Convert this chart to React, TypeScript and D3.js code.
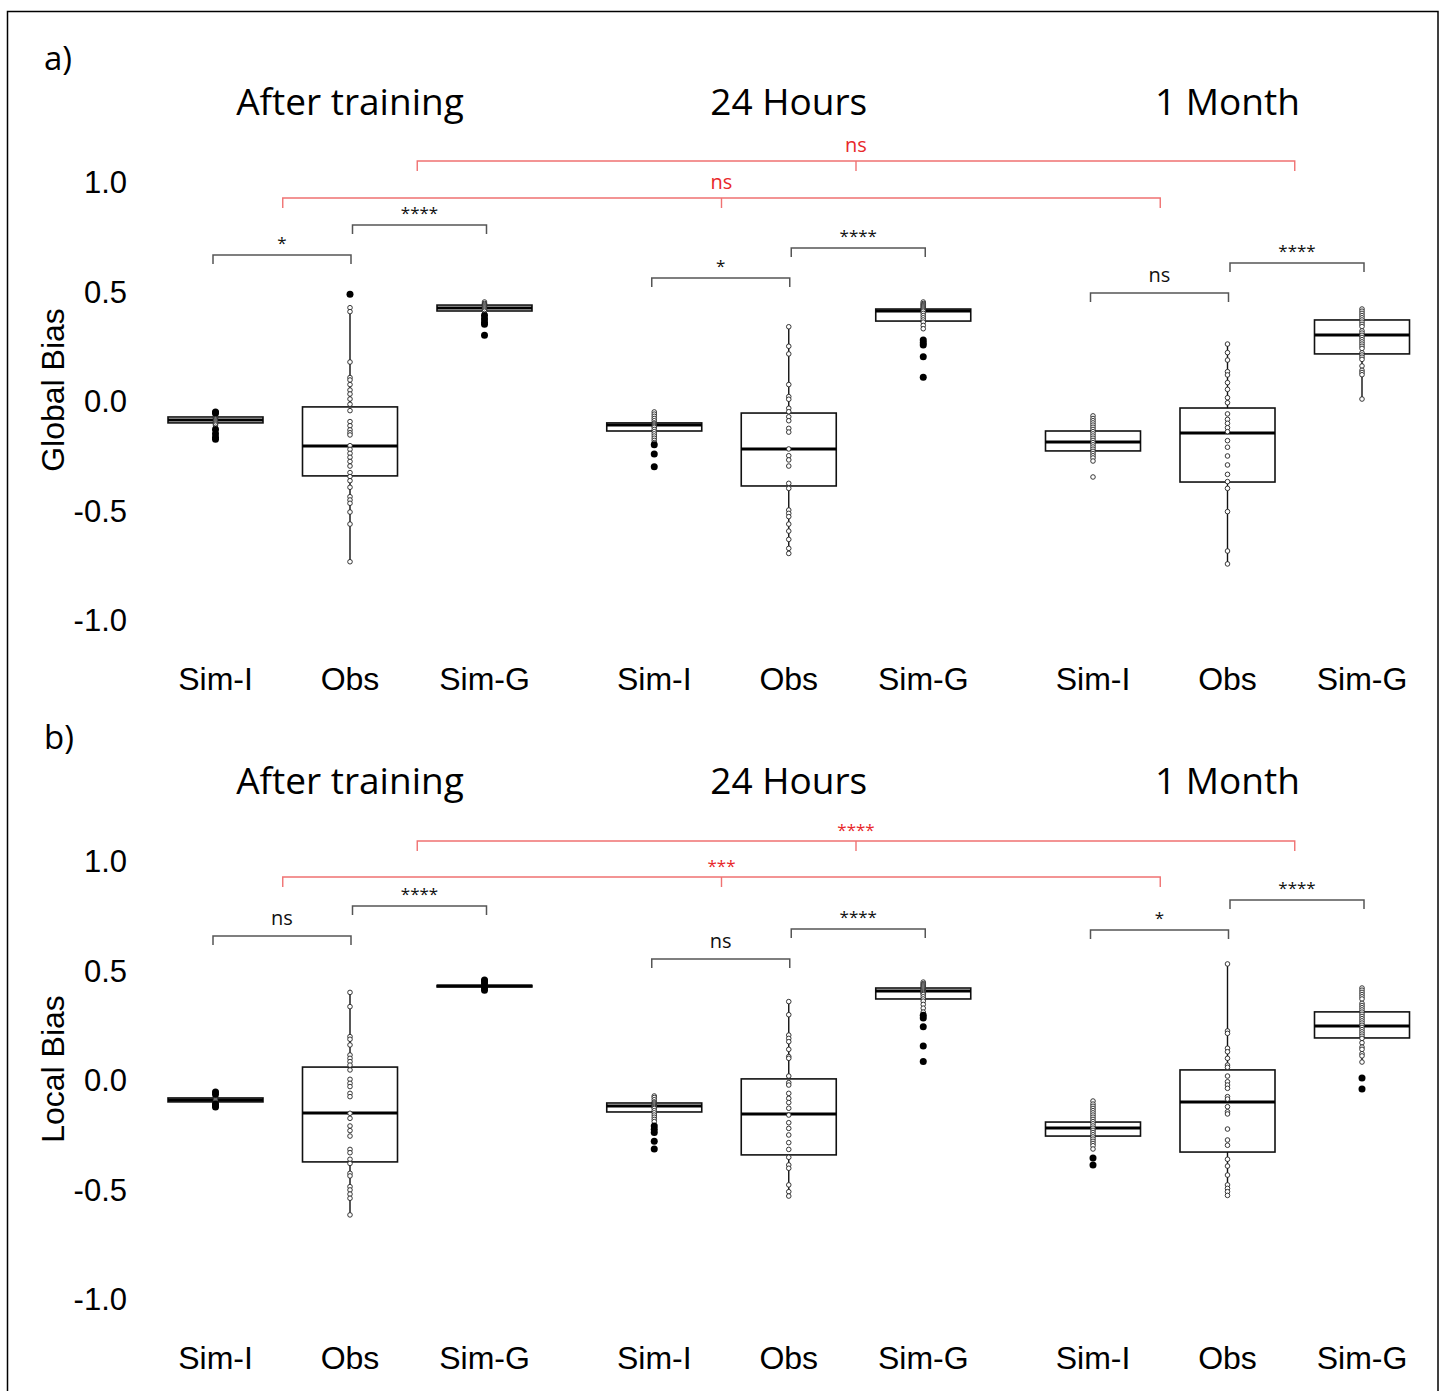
import React from "react";
import * as d3 from "d3";

const groups = ["After training", "24 Hours", "1 Month"];
const conditions = ["Sim-I", "Obs", "Sim-G"];
const yTicks = [-1.0, -0.5, 0.0, 0.5, 1.0];

// ---- Panel a: Global Bias (order: AT Sim-I, AT Obs, AT Sim-G, 24H Sim-I, 24H Obs, 24H Sim-G, 1M Sim-I, 1M Obs, 1M Sim-G)
const globalQ1 = [-0.100, -0.342, 0.411, -0.137, -0.388, 0.365, -0.228, -0.370, 0.215];
const globalMedian = [-0.087, -0.205, 0.425, -0.110, -0.219, 0.411, -0.187, -0.146, 0.301];
const globalQ3 = [-0.073, -0.027, 0.438, -0.100, -0.055, 0.420, -0.137, -0.032, 0.370];
const globalLow = [-0.120, -0.735, 0.398, -0.190, -0.694, 0.320, -0.274, -0.744, 0.009];
const globalHigh = [-0.060, 0.415, 0.452, -0.050, 0.338, 0.452, -0.068, 0.260, 0.420];
const globalPoints = [
  [-0.06, -0.065, -0.07, -0.075, -0.08, -0.085, -0.09, -0.095, -0.10, -0.105, -0.11, -0.12],
  [0.426, 0.408, 0.178, 0.107, 0.096, 0.075, 0.050, 0.032, 0.009, -0.015, -0.044, -0.094, -0.113, -0.132, -0.145, -0.155, -0.204, -0.221, -0.239, -0.257, -0.276, -0.297, -0.327, -0.345, -0.364, -0.394, -0.437, -0.452, -0.467, -0.507, -0.562, -0.734],
  [0.452, 0.445, 0.44, 0.435, 0.43, 0.425, 0.42, 0.415, 0.41, 0.40],
  [-0.05, -0.06, -0.07, -0.08, -0.09, -0.10, -0.105, -0.11, -0.115, -0.12, -0.13, -0.14, -0.15, -0.16, -0.17, -0.18, -0.19],
  [0.339, 0.250, 0.215, 0.075, 0.020, 0.008, -0.033, -0.049, -0.072, -0.090, -0.125, -0.142, -0.219, -0.250, -0.269, -0.297, -0.376, -0.399, -0.498, -0.513, -0.528, -0.562, -0.594, -0.632, -0.673, -0.696],
  [0.452, 0.445, 0.44, 0.435, 0.43, 0.425, 0.42, 0.415, 0.41, 0.40, 0.39, 0.38, 0.37, 0.36, 0.345, 0.33],
  [-0.068, -0.08, -0.09, -0.10, -0.11, -0.12, -0.13, -0.14, -0.15, -0.16, -0.17, -0.18, -0.19, -0.20, -0.21, -0.22, -0.23, -0.24, -0.25, -0.26, -0.274, -0.347],
  [0.260, 0.221, 0.187, 0.134, 0.119, 0.084, 0.053, 0.015, -0.008, -0.059, -0.084, -0.102, -0.122, -0.140, -0.181, -0.211, -0.251, -0.292, -0.335, -0.368, -0.399, -0.505, -0.685, -0.744],
  [0.42, 0.41, 0.40, 0.39, 0.38, 0.37, 0.36, 0.35, 0.34, 0.32, 0.31, 0.30, 0.29, 0.28, 0.27, 0.26, 0.25, 0.24, 0.22, 0.21, 0.20, 0.19, 0.16, 0.14, 0.13, 0.12, 0.009],
];
const globalOutliers = [
  [-0.05, -0.055, -0.13, -0.15, -0.165, -0.175],
  [0.487],
  [0.39, 0.375, 0.36, 0.35, 0.30],
  [-0.20, -0.242, -0.30],
  [],
  [0.279, 0.266, 0.256, 0.202, 0.108],
  [],
  [],
  [],
];

// ---- Panel b: Local Bias
const localQ1 = [-0.100, -0.374, 0.425, -0.146, -0.342, 0.370, -0.256, -0.329, 0.192];
const localMedian = [-0.091, -0.151, 0.429, -0.119, -0.155, 0.406, -0.219, -0.100, 0.247];
const localQ3 = [-0.082, 0.059, 0.432, -0.105, 0.005, 0.420, -0.192, 0.046, 0.311];
const localLow = [-0.105, -0.616, 0.425, -0.190, -0.530, 0.310, -0.315, -0.527, 0.082];
const localHigh = [-0.075, 0.400, 0.435, -0.073, 0.358, 0.447, -0.096, 0.530, 0.420];
const localPoints = [
  [-0.075, -0.08, -0.085, -0.09, -0.095, -0.10, -0.105],
  [0.400, 0.335, 0.198, 0.186, 0.160, 0.114, 0.099, 0.084, 0.068, 0.046, 0.003, -0.015, -0.030, -0.061, -0.076, -0.152, -0.175, -0.210, -0.231, -0.256, -0.317, -0.332, -0.362, -0.381, -0.426, -0.438, -0.487, -0.502, -0.521, -0.540, -0.616],
  [0.435, 0.43, 0.429, 0.428, 0.425],
  [-0.073, -0.08, -0.09, -0.10, -0.105, -0.11, -0.115, -0.12, -0.125, -0.13, -0.14, -0.15, -0.16, -0.17, -0.18, -0.19],
  [0.358, 0.298, 0.205, 0.190, 0.175, 0.140, 0.107, 0.099, 0.018, -0.012, -0.023, -0.061, -0.084, -0.103, -0.129, -0.160, -0.195, -0.221, -0.251, -0.286, -0.317, -0.353, -0.388, -0.403, -0.479, -0.510, -0.530],
  [0.447, 0.44, 0.435, 0.43, 0.425, 0.42, 0.415, 0.41, 0.405, 0.40, 0.395, 0.39, 0.38, 0.37, 0.36, 0.345, 0.328, 0.31],
  [-0.096, -0.11, -0.12, -0.13, -0.14, -0.15, -0.16, -0.17, -0.18, -0.19, -0.20, -0.21, -0.22, -0.23, -0.24, -0.25, -0.26, -0.27, -0.28, -0.29, -0.30, -0.315],
  [0.530, 0.224, 0.213, 0.145, 0.129, 0.099, 0.068, 0.058, 0.018, -0.008, -0.023, -0.038, -0.076, -0.087, -0.122, -0.145, -0.155, -0.224, -0.274, -0.298, -0.362, -0.393, -0.434, -0.479, -0.495, -0.510, -0.527],
  [0.42, 0.41, 0.40, 0.39, 0.38, 0.37, 0.35, 0.34, 0.33, 0.32, 0.31, 0.30, 0.29, 0.28, 0.27, 0.26, 0.25, 0.24, 0.23, 0.22, 0.21, 0.20, 0.19, 0.17, 0.15, 0.14, 0.12, 0.11, 0.082],
];
const localOutliers = [
  [-0.055, -0.065, -0.11, -0.115, -0.123],
  [],
  [0.457, 0.45, 0.44, 0.42, 0.41],
  [-0.21, -0.225, -0.24, -0.28, -0.315],
  [],
  [0.296, 0.283, 0.243, 0.155, 0.084],
  [-0.356, -0.388],
  [],
  [0.009, -0.041],
];

// ---- Significance brackets (within group)
const globalPairs = [
  { group: 0, a: "Sim-I", b: "Obs", level: 0.667, label: "*" },
  { group: 0, a: "Obs", b: "Sim-G", level: 0.804, label: "****" },
  { group: 1, a: "Sim-I", b: "Obs", level: 0.562, label: "*" },
  { group: 1, a: "Obs", b: "Sim-G", level: 0.699, label: "****" },
  { group: 2, a: "Sim-I", b: "Obs", level: 0.493, label: "ns" },
  { group: 2, a: "Obs", b: "Sim-G", level: 0.630, label: "****" },
];
const localPairs = [
  { group: 0, a: "Sim-I", b: "Obs", level: 0.658, label: "ns" },
  { group: 0, a: "Obs", b: "Sim-G", level: 0.795, label: "****" },
  { group: 1, a: "Sim-I", b: "Obs", level: 0.553, label: "ns" },
  { group: 1, a: "Obs", b: "Sim-G", level: 0.689, label: "****" },
  { group: 2, a: "Sim-I", b: "Obs", level: 0.685, label: "*" },
  { group: 2, a: "Obs", b: "Sim-G", level: 0.822, label: "****" },
];
// ---- Cross-time brackets (red): compare pair differences across groups
const globalCross = [
  { a: "Obs", b: "Sim-G", level: 1.096, label: "ns" },
  { a: "Sim-I", b: "Obs", level: 0.927, label: "ns" },
];
const localCross = [
  { a: "Obs", b: "Sim-G", level: 1.091, label: "****" },
  { a: "Sim-I", b: "Obs", level: 0.927, label: "***" },
];

const W = 1444;
const H = 1391;
const SANS = "'Liberation Sans', Arial, sans-serif";
const OPEN = "'Open Sans', 'Noto Sans', sans-serif";
const RED = "#e8282b";
const RED_LINE = "#f07272";

const xGroup = d3.scalePoint<string>().domain(groups).range([350, 1227.5]);
const xCond = d3.scalePoint<string>().domain(conditions).range([-134.5, 134.5]);
const xPos = (g: number, c: string) => (xGroup(groups[g]) as number) + (xCond(c) as number);
const boxW = 95;
const fmt = (t: number) => d3.format(".1f")(t).replace("\u2212", "-");

type PanelProps = {
  top: number;
  letter: string;
  yLabel: string;
  q1: number[];
  med: number[];
  q3: number[];
  lo: number[];
  hi: number[];
  points: number[][];
  outliers: number[][];
  pairs: { group: number; a: string; b: string; level: number; label: string }[];
  cross: { a: string; b: string; level: number; label: string }[];
};

function Panel(p: PanelProps) {
  const y = d3.scaleLinear().domain([-1, 1]).range([p.top + 620, p.top + 182]);
  const boxes: { gi: number; c: string; i: number }[] = [];
  groups.forEach((g, gi) => {
    conditions.forEach((c, ci) => {
      boxes.push({ gi, c, i: gi * 3 + ci });
    });
  });
  return (
    <g>
      <text x={44} y={p.top + 70} fontFamily={OPEN} fontSize={33} fill="#000">{p.letter}</text>
      {groups.map((g) => (
        <text key={g} x={xGroup(g)} y={p.top + 115} textAnchor="middle" fontFamily={OPEN} fontSize={37} fill="#000">{g}</text>
      ))}
      {yTicks.map((t) => (
        <text key={t} x={127} y={y(t)} dy="0.36em" textAnchor="end" fontFamily={SANS} fontSize={31} fill="#000">{fmt(t)}</text>
      ))}
      <text transform={`translate(${52},${p.top + 390}) rotate(-90)`} dy="0.36em" textAnchor="middle" fontFamily={SANS} fontSize={32} fill="#000">{p.yLabel}</text>
      {boxes.map((b) => (
        <text key={"lab" + b.i} x={xPos(b.gi, b.c)} y={p.top + 678} dy="0.36em" textAnchor="middle" fontFamily={SANS} fontSize={32} fill="#000">{b.c}</text>
      ))}
      {/* red cross-time brackets */}
      {p.cross.map((r, k) => {
        const x1 = (xPos(0, r.a) + xPos(0, r.b)) / 2;
        const x2 = (xPos(2, r.a) + xPos(2, r.b)) / 2;
        const xm = (xPos(1, r.a) + xPos(1, r.b)) / 2;
        const yy = y(r.level);
        const isNs = r.label === "ns";
        return (
          <g key={"cross" + k}>
            <path d={`M${x1},${yy + 10}V${yy}H${x2}V${yy + 10}M${xm},${yy}V${yy + 10}`} fill="none" stroke={RED_LINE} strokeWidth={1.4} />
            <text x={xm} y={isNs ? yy - 9 : yy - 5} textAnchor="middle" fontFamily={OPEN} fontSize={isNs ? 20 : 17} fill={RED}>{r.label}</text>
          </g>
        );
      })}
      {/* black within-group brackets */}
      {p.pairs.map((r, k) => {
        const nudge = r.a === "Obs" ? 2.5 : -2.5;
        const x1 = xPos(r.group, r.a) + nudge;
        const x2 = xPos(r.group, r.b) + (r.a === "Obs" ? 2 : 1);
        const yy = y(r.level);
        const isNs = r.label === "ns";
        return (
          <g key={"pair" + k}>
            <path d={`M${x1},${yy + 9}V${yy}H${x2}V${yy + 9}`} fill="none" stroke="#555" strokeWidth={1.5} />
            <text x={(x1 + x2) / 2} y={isNs ? yy - 11 : yy - 6} textAnchor="middle" fontFamily={OPEN} fontSize={isNs ? 20 : 17} fill="#111">{r.label}</text>
          </g>
        );
      })}
      {/* boxes */}
      {boxes.map((b) => {
        const cx = xPos(b.gi, b.c);
        const i = b.i;
        return (
          <g key={"box" + i}>
            <line x1={cx} x2={cx} y1={y(p.hi[i])} y2={y(p.q3[i])} stroke="#111" strokeWidth={1.4} />
            <line x1={cx} x2={cx} y1={y(p.q1[i])} y2={y(p.lo[i])} stroke="#111" strokeWidth={1.4} />
            <rect x={cx - boxW / 2} width={boxW} y={y(p.q3[i])} height={Math.max(0.5, y(p.q1[i]) - y(p.q3[i]))} fill="#fff" stroke="#111" strokeWidth={1.6} />
            <line x1={cx - boxW / 2} x2={cx + boxW / 2} y1={y(p.med[i])} y2={y(p.med[i])} stroke="#000" strokeWidth={3} />
            {p.points[i].map((v, k) => (
              <circle key={"p" + k} cx={cx} cy={y(v)} r={2.3} fill="#fff" stroke="#222" strokeWidth={0.9} />
            ))}
            {p.outliers[i].map((v, k) => (
              <circle key={"o" + k} cx={cx} cy={y(v)} r={3.5} fill="#000" />
            ))}
          </g>
        );
      })}
    </g>
  );
}

export default function App() {
  return (
    <svg width={W} height={H} style={{ position: "absolute", left: 0, top: 0, background: "#fff" }}>
      <rect x={0} y={0} width={W} height={H} fill="#fff" />
      <rect x={7.5} y={11.5} width={1430.5} height={1395} fill="none" stroke="#000" strokeWidth={1.5} />
      <Panel top={0} letter="a)" yLabel="Global Bias" q1={globalQ1} med={globalMedian} q3={globalQ3} lo={globalLow} hi={globalHigh}
        points={globalPoints} outliers={globalOutliers} pairs={globalPairs} cross={globalCross} />
      <Panel top={679} letter="b)" yLabel="Local Bias" q1={localQ1} med={localMedian} q3={localQ3} lo={localLow} hi={localHigh}
        points={localPoints} outliers={localOutliers} pairs={localPairs} cross={localCross} />
    </svg>
  );
}
